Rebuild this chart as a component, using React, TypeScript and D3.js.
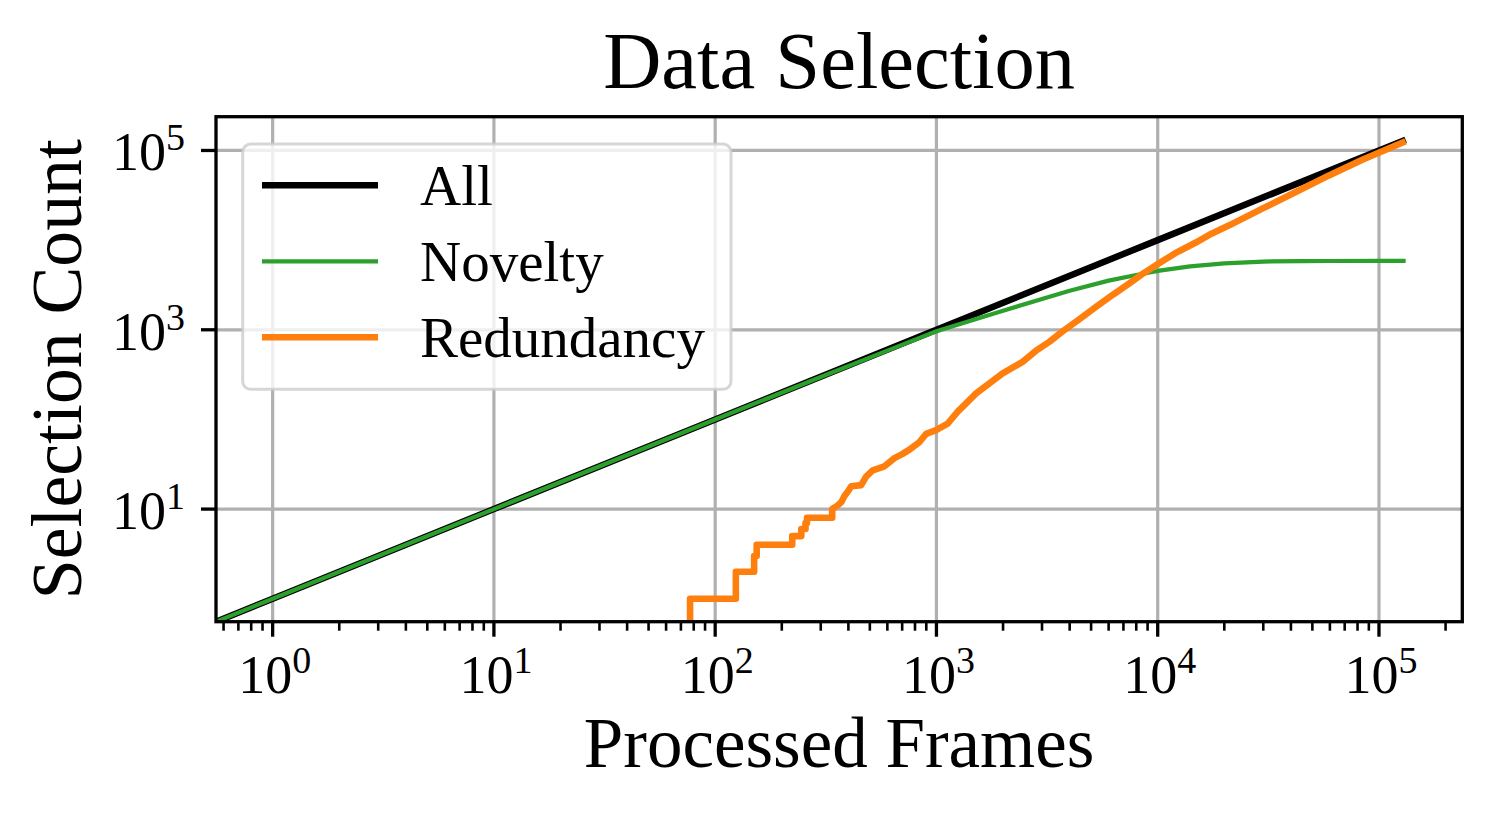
import React from 'react';
import * as d3 from 'd3';

// ---- data ----
const allFrames = [0, 1, 10, 100, 1000, 10000, 100000, 132000];
const allCounts = [0, 1, 10, 100, 1000, 10000, 100000, 132000];

const noveltyFrames = [0, 1, 10, 100, 300, 600, 1000, 1500, 2000, 3000, 4000, 6000, 8000, 10000, 14000, 20000, 30000, 45000, 60000, 100000, 132000];
const noveltyCounts = [0, 1, 10, 100, 297, 585, 962, 1310, 1630, 2210, 2730, 3535, 4080, 4530, 5090, 5510, 5770, 5830, 5850, 5860, 5860];

// early, step-wise part of the redundancy curve
const redStepFrames = [77, 77, 124, 150, 154, 223, 245, 256, 260, 338];
const redStepCounts = [0, 1, 2, 3, 4, 5, 6, 7, 8, 10];
// later, dense part of the redundancy curve
const redFrames = [338, 358, 372, 384, 400, 412, 457, 481, 515, 582, 646, 700, 755, 838, 898, 996, 1124, 1248, 1361, 1511, 1735, 1991, 2451, 2815, 3236, 3715, 4400, 5260, 6300, 7430, 8600, 9980, 12000, 14870, 17500, 21040, 29700, 42070, 59450, 84100, 132000];
const redCounts = [10, 11, 12, 14, 16, 18, 18.5, 23, 27, 30, 37, 41, 46, 56, 69, 76, 90, 122, 151, 195, 252, 326, 439, 582, 733, 960, 1300, 1800, 2480, 3280, 4250, 5370, 7150, 9400, 11800, 14620, 22430, 34370, 52700, 78800, 127000];

const xMajorTicks = [1, 10, 100, 1000, 10000, 100000];
const xTickExp = ['0', '1', '2', '3', '4', '5'];
const yMajorTicks = [10, 1000, 100000];
const yTickExp = ['1', '3', '5'];

const legendLabels = ['All', 'Novelty', 'Redundancy'];
const colors = ['#000000', '#2ca02c', '#ff7f0e'];
const widths = [6.5, 4.2, 6.6];

const W = 1495;
const H = 814;
const FONT = '"Liberation Serif", "DejaVu Serif", serif';

export default function App() {
  const left = 216, right = 1462.3, top = 116.7, bottom = 621.7;
  const dataMax = d3.max(allFrames) as number;
  const span = Math.log10(dataMax) - 0;
  const lo = Math.pow(10, -0.05 * span);
  const hi = Math.pow(10, Math.log10(dataMax) + 0.05 * span);
  const x = d3.scaleLog().domain([lo, hi]).range([left, right]);
  const y = d3.scaleLog().domain([lo, hi]).range([bottom, top]);
  const clampV = (v: number) => Math.max(v, 1e-3);

  const line = d3.line<[number, number]>()
    .x(d => x(clampV(d[0])))
    .y(d => y(clampV(d[1])));
  const stepLine = d3.line<[number, number]>()
    .x(d => x(clampV(d[0])))
    .y(d => y(clampV(d[1])))
    .curve(d3.curveStepAfter);

  const zip = (a: number[], b: number[]) => a.map((v, i) => [v, b[i]] as [number, number]);
  const allPath = line(zip(allFrames, allCounts)) || '';
  const novPath = line(zip(noveltyFrames, noveltyCounts)) || '';
  const redPath = (stepLine(zip(redStepFrames, redStepCounts)) || '') +
    (line(zip(redFrames, redCounts)) || '').replace(/^M/, 'L');

  const minorTicks = x.ticks(60).filter(t => {
    const e = Math.log10(t);
    return Math.abs(e - Math.round(e)) > 1e-6 && t >= lo && t <= hi;
  });

  const gridColor = '#b0b0b0';
  const gridW = 3.2;
  const tickFont = 54;
  const supFont = 38;

  return (
    <svg width={W} height={H} style={{ position: 'absolute', left: 0, top: 0, background: '#fff' }} fontFamily={FONT}>
      <defs>
        <clipPath id="plotclip">
          <rect x={left} y={top} width={right - left} height={bottom - top} />
        </clipPath>
      </defs>
      <rect x={0} y={0} width={W} height={H} fill="#fff" />
      {/* grid */}
      {xMajorTicks.map(t => (
        <line key={'gx' + t} x1={x(t)} x2={x(t)} y1={top} y2={bottom} stroke={gridColor} strokeWidth={gridW} />
      ))}
      {yMajorTicks.map(t => (
        <line key={'gy' + t} x1={left} x2={right} y1={y(t)} y2={y(t)} stroke={gridColor} strokeWidth={gridW} />
      ))}
      {/* lines */}
      <g clipPath="url(#plotclip)" fill="none" strokeLinejoin="round" strokeLinecap="butt">
        <path d={allPath} stroke={colors[0]} strokeWidth={widths[0]} />
        <path d={novPath} stroke={colors[1]} strokeWidth={widths[1]} />
        <path d={redPath} stroke={colors[2]} strokeWidth={widths[2]} />
      </g>
      {/* spines */}
      <rect x={left} y={top} width={right - left} height={bottom - top} fill="none" stroke="#000" strokeWidth={3.3} />
      {/* x ticks */}
      {xMajorTicks.map(t => (
        <line key={'xt' + t} x1={x(t)} x2={x(t)} y1={bottom} y2={bottom + 15} stroke="#000" strokeWidth={3.3} />
      ))}
      {minorTicks.map(t => (
        <line key={'xm' + t} x1={x(t)} x2={x(t)} y1={bottom} y2={bottom + 9} stroke="#000" strokeWidth={2.6} />
      ))}
      {xMajorTicks.map((t, i) => (
        <text key={'xl' + t} x={x(t) + 2} y={693} textAnchor="middle" fontSize={tickFont} fill="#000">
          10<tspan fontSize={supFont} dy={-20}>{xTickExp[i]}</tspan>
        </text>
      ))}
      {/* y ticks */}
      {yMajorTicks.map(t => (
        <line key={'yt' + t} x1={left - 15} x2={left} y1={y(t)} y2={y(t)} stroke="#000" strokeWidth={3.3} />
      ))}
      {yMajorTicks.map((t, i) => (
        <text key={'yl' + t} x={185} y={y(t) + 20} textAnchor="end" fontSize={tickFont} fill="#000">
          10<tspan fontSize={supFont} dy={-20}>{yTickExp[i]}</tspan>
        </text>
      ))}
      {/* legend */}
      <rect x={242.7} y={144} width={488.3} height={245.3} rx={8} ry={8} fill="#fff" fillOpacity={0.8} stroke="#cccccc" strokeOpacity={0.8} strokeWidth={3} />
      {legendLabels.map((lab, i) => (
        <g key={lab}>
          <line x1={262} x2={378} y1={185.3 + i * 76} y2={185.3 + i * 76} stroke={colors[i]} strokeWidth={widths[i]} />
          <text x={420} y={205 + i * 76} fontSize={57} fill="#000">{lab}</text>
        </g>
      ))}
      {/* titles */}
      <text x={(left + right) / 2} y={88} textAnchor="middle" fontSize={80} fill="#000" textLength={472} lengthAdjust="spacingAndGlyphs">Data Selection</text>
      <text x={(left + right) / 2} y={767} textAnchor="middle" fontSize={71} fill="#000">Processed Frames</text>
      <text transform={`translate(81, ${(top + bottom) / 2}) rotate(-90)`} textAnchor="middle" fontSize={71} fill="#000" textLength={460} lengthAdjust="spacingAndGlyphs">Selection Count</text>
    </svg>
  );
}
